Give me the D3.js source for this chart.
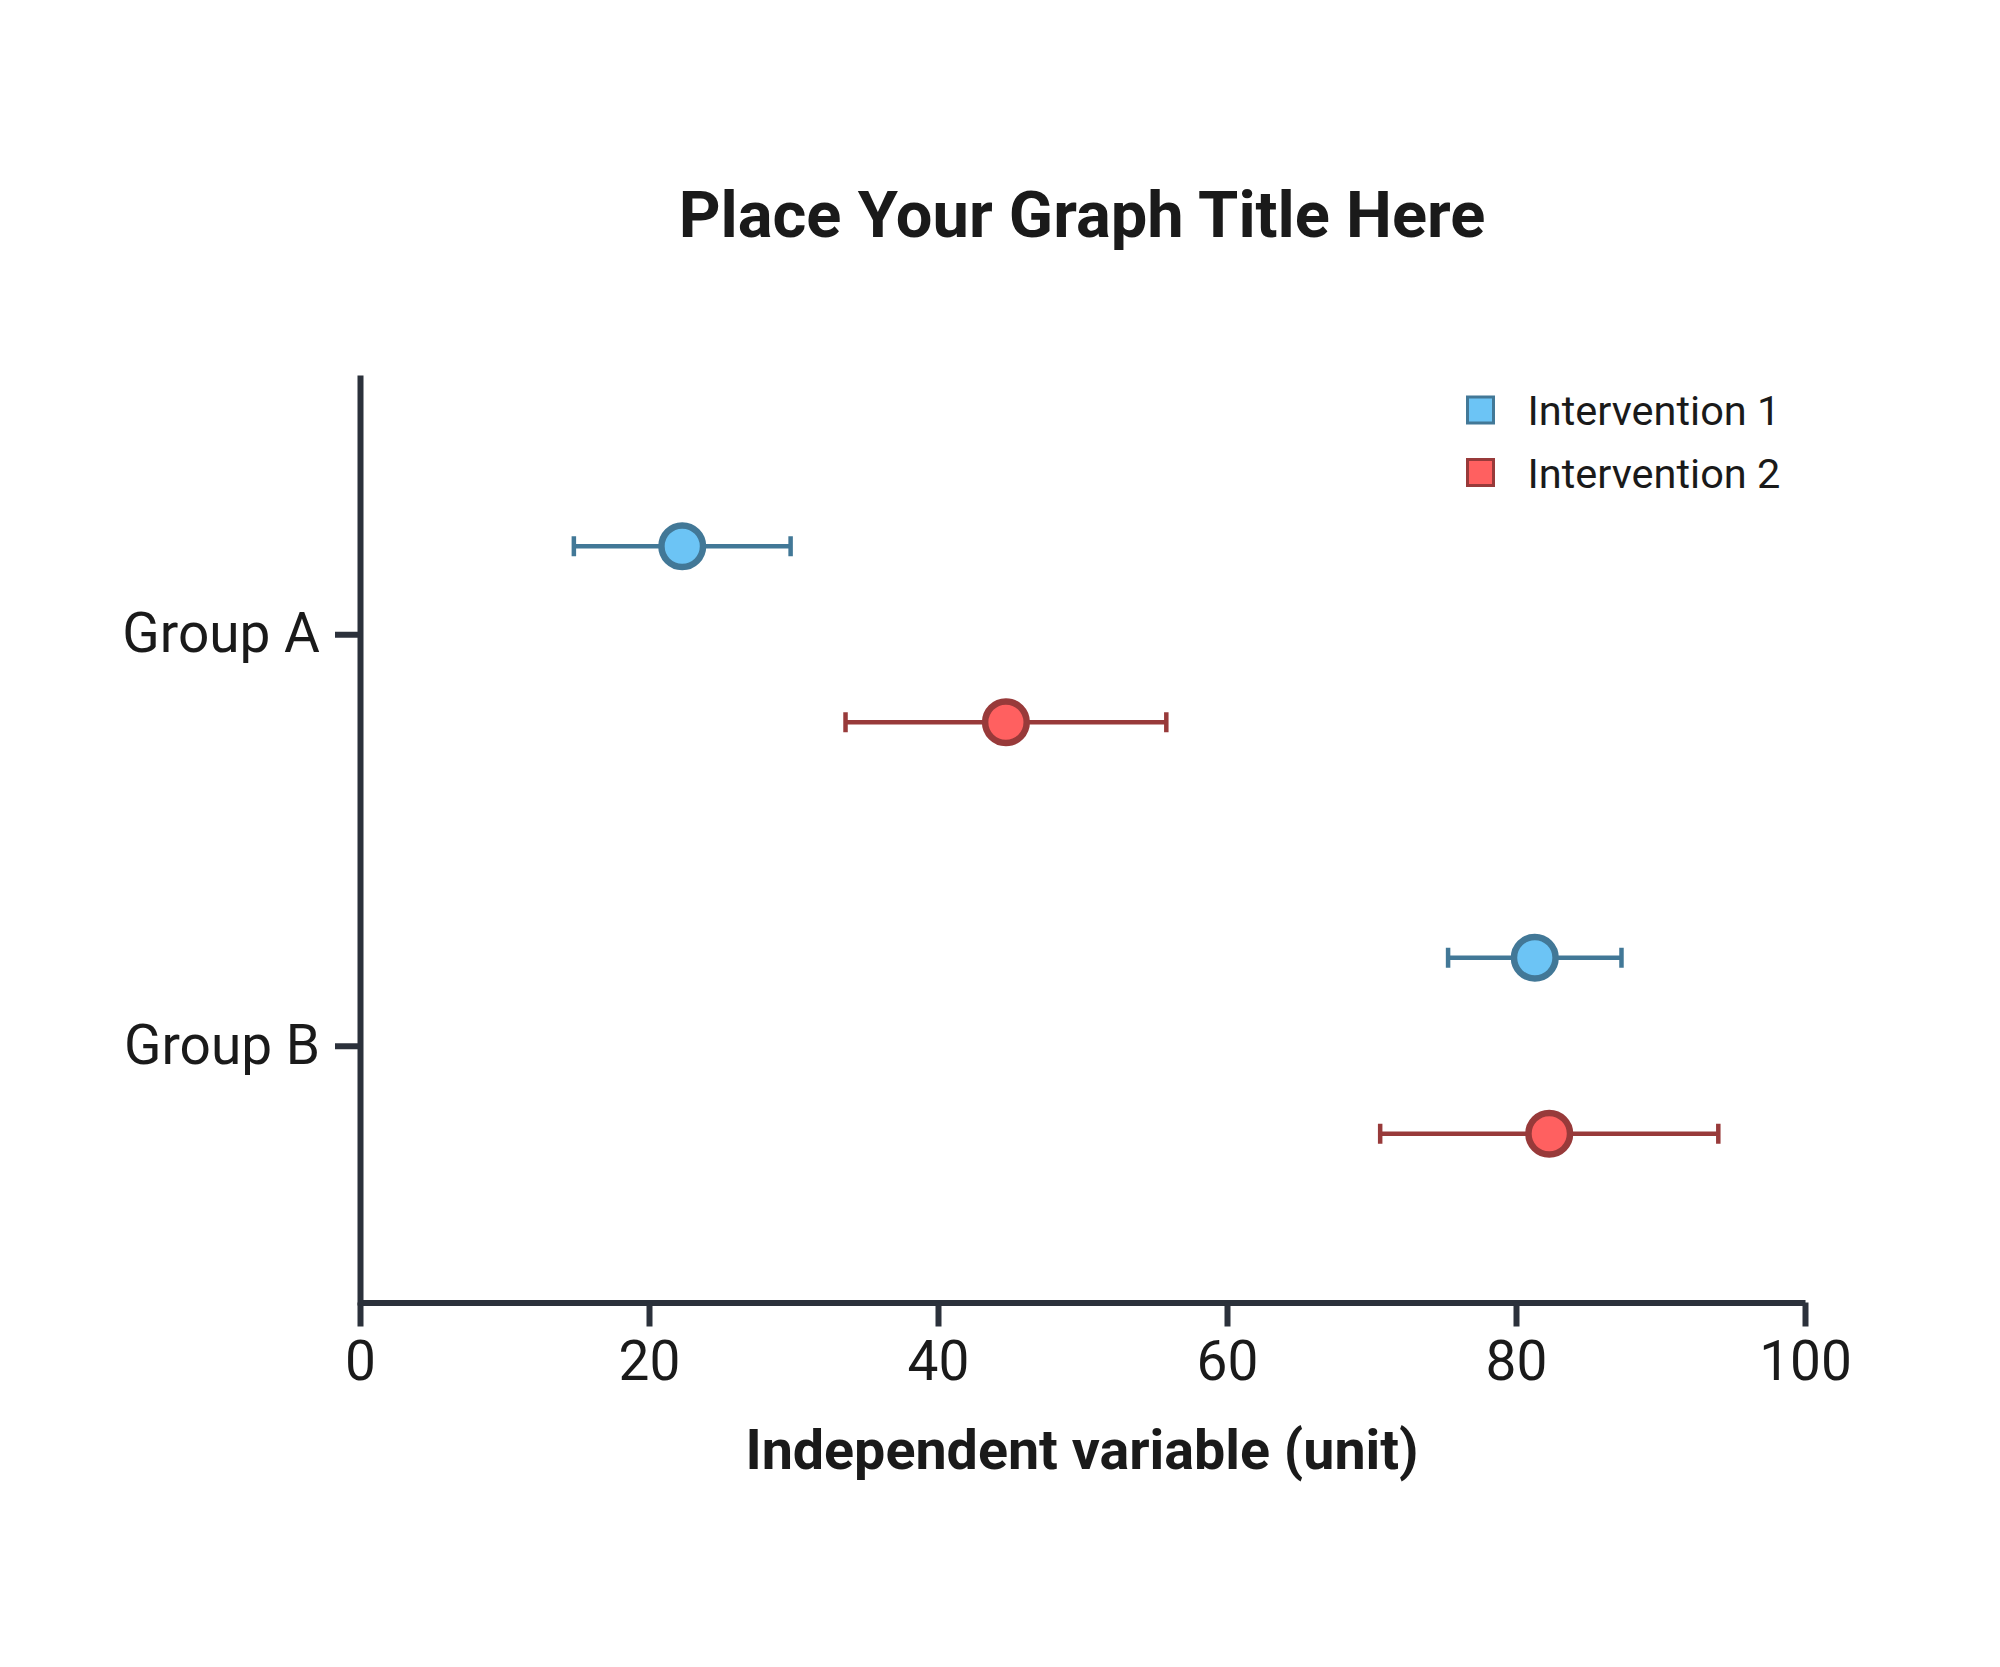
<!DOCTYPE html>
<html>
<head>
<meta charset="utf-8">
<script src="https://cdn.jsdelivr.net/npm/d3@7"></script>
<style>
  body { margin: 0; background: #fff; }
  svg { display: block; font-family: Roboto, "Open Sans", sans-serif; }
</style>
</head>
<body>
<svg id="chart"></svg>
<script>
var groups = ["Group A", "Group B"];
var series = ["Intervention 1", "Intervention 2"];
var means1 = [22.3, 81.3];
var errs1 = [7.5, 6.0];
var means2 = [44.7, 82.3];
var errs2 = [11.1, 11.7];
var xTicks = [0, 20, 40, 60, 80, 100];

var width = 2000,
    height = 1667;

var fills = ["#6cc4f5", "#ff6060"];
var strokes = ["#427897", "#983a3a"];
var axisColor = "#2b313b";
var textColor = "#1a1a1a";

var svg = d3.select("#chart")
    .attr("width", width)
    .attr("height", height);

var x = d3.scaleLinear()
    .domain([0, 100])
    .range([360, 1805]);

var y = d3.scalePoint()
    .domain(groups)
    .range([375, 1305])
    .padding(0.63);

var inner = d3.scalePoint()
    .domain(series)
    .range([-88, 88]);

// axes
var xAxis = svg.append("g")
    .attr("transform", "translate(0,1302.5)")
    .call(d3.axisBottom(x).tickValues(xTicks).tickSize(24).tickSizeOuter(0).tickPadding(14));

var yAxis = svg.append("g")
    .attr("transform", "translate(360,0)")
    .call(d3.axisLeft(y).tickSize(25).tickSizeOuter(0).tickPadding(15));

[xAxis, yAxis].forEach(function(a) {
    a.select(".domain").attr("stroke", axisColor).attr("stroke-width", 6);
    a.selectAll(".tick line").attr("stroke", axisColor).attr("stroke-width", 6);
    a.selectAll(".tick text")
        .attr("fill", textColor)
        .style("font-size", "55px")
        .style("font-family", "Roboto");
});
xAxis.selectAll(".tick text").attr("dy", "0.71em");

// rows of data per series
var rows = [];
groups.forEach(function(g, i) {
    rows.push({ group: g, s: 0, mean: means1[i], err: errs1[i] });
    rows.push({ group: g, s: 1, mean: means2[i], err: errs2[i] });
});

var pts = svg.append("g").selectAll("g")
    .data(rows)
  .enter().append("g")
    .attr("transform", function(d) { return "translate(0," + (y(d.group) + inner(series[d.s])) + ")"; });

pts.append("line")
    .attr("x1", function(d) { return x(d.mean - d.err); })
    .attr("x2", function(d) { return x(d.mean + d.err); })
    .attr("stroke", function(d) { return strokes[d.s]; })
    .attr("stroke-width", 4.5);

pts.selectAll(".cap")
    .data(function(d) { return [{ v: d.mean - d.err, s: d.s }, { v: d.mean + d.err, s: d.s }]; })
  .enter().append("line")
    .attr("class", "cap")
    .attr("x1", function(d) { return x(d.v); })
    .attr("x2", function(d) { return x(d.v); })
    .attr("y1", -10)
    .attr("y2", 10)
    .attr("stroke", function(d) { return strokes[d.s]; })
    .attr("stroke-width", 4.5);

pts.append("circle")
    .attr("cx", function(d) { return x(d.mean); })
    .attr("cy", 0)
    .attr("r", 20.8)
    .attr("fill", function(d) { return fills[d.s]; })
    .attr("stroke", function(d) { return strokes[d.s]; })
    .attr("stroke-width", 6.5);

// legend
var legend = svg.append("g").selectAll("g")
    .data(series)
  .enter().append("g")
    .attr("transform", function(d, i) { return "translate(1480.5," + (410 + i * 62.5) + ")"; });

legend.append("rect")
    .attr("x", -13)
    .attr("y", -13)
    .attr("width", 26)
    .attr("height", 26)
    .attr("fill", function(d, i) { return fills[i]; })
    .attr("stroke", function(d, i) { return strokes[i]; })
    .attr("stroke-width", 3);

legend.append("text")
    .attr("x", 47)
    .attr("y", 15)
    .attr("fill", textColor)
    .style("font-size", "41.5px")
    .text(function(d) { return d; });

// title and axis label
svg.append("text")
    .attr("x", 1082)
    .attr("y", 237)
    .attr("text-anchor", "middle")
    .attr("fill", textColor)
    .style("font-size", "65px")
    .style("font-weight", "bold")
    .text("Place Your Graph Title Here");

svg.append("text")
    .attr("x", 1082)
    .attr("y", 1469)
    .attr("text-anchor", "middle")
    .attr("fill", textColor)
    .style("font-size", "55.6px")
    .style("font-weight", "bold")
    .text("Independent variable (unit)");
</script>
</body>
</html>
